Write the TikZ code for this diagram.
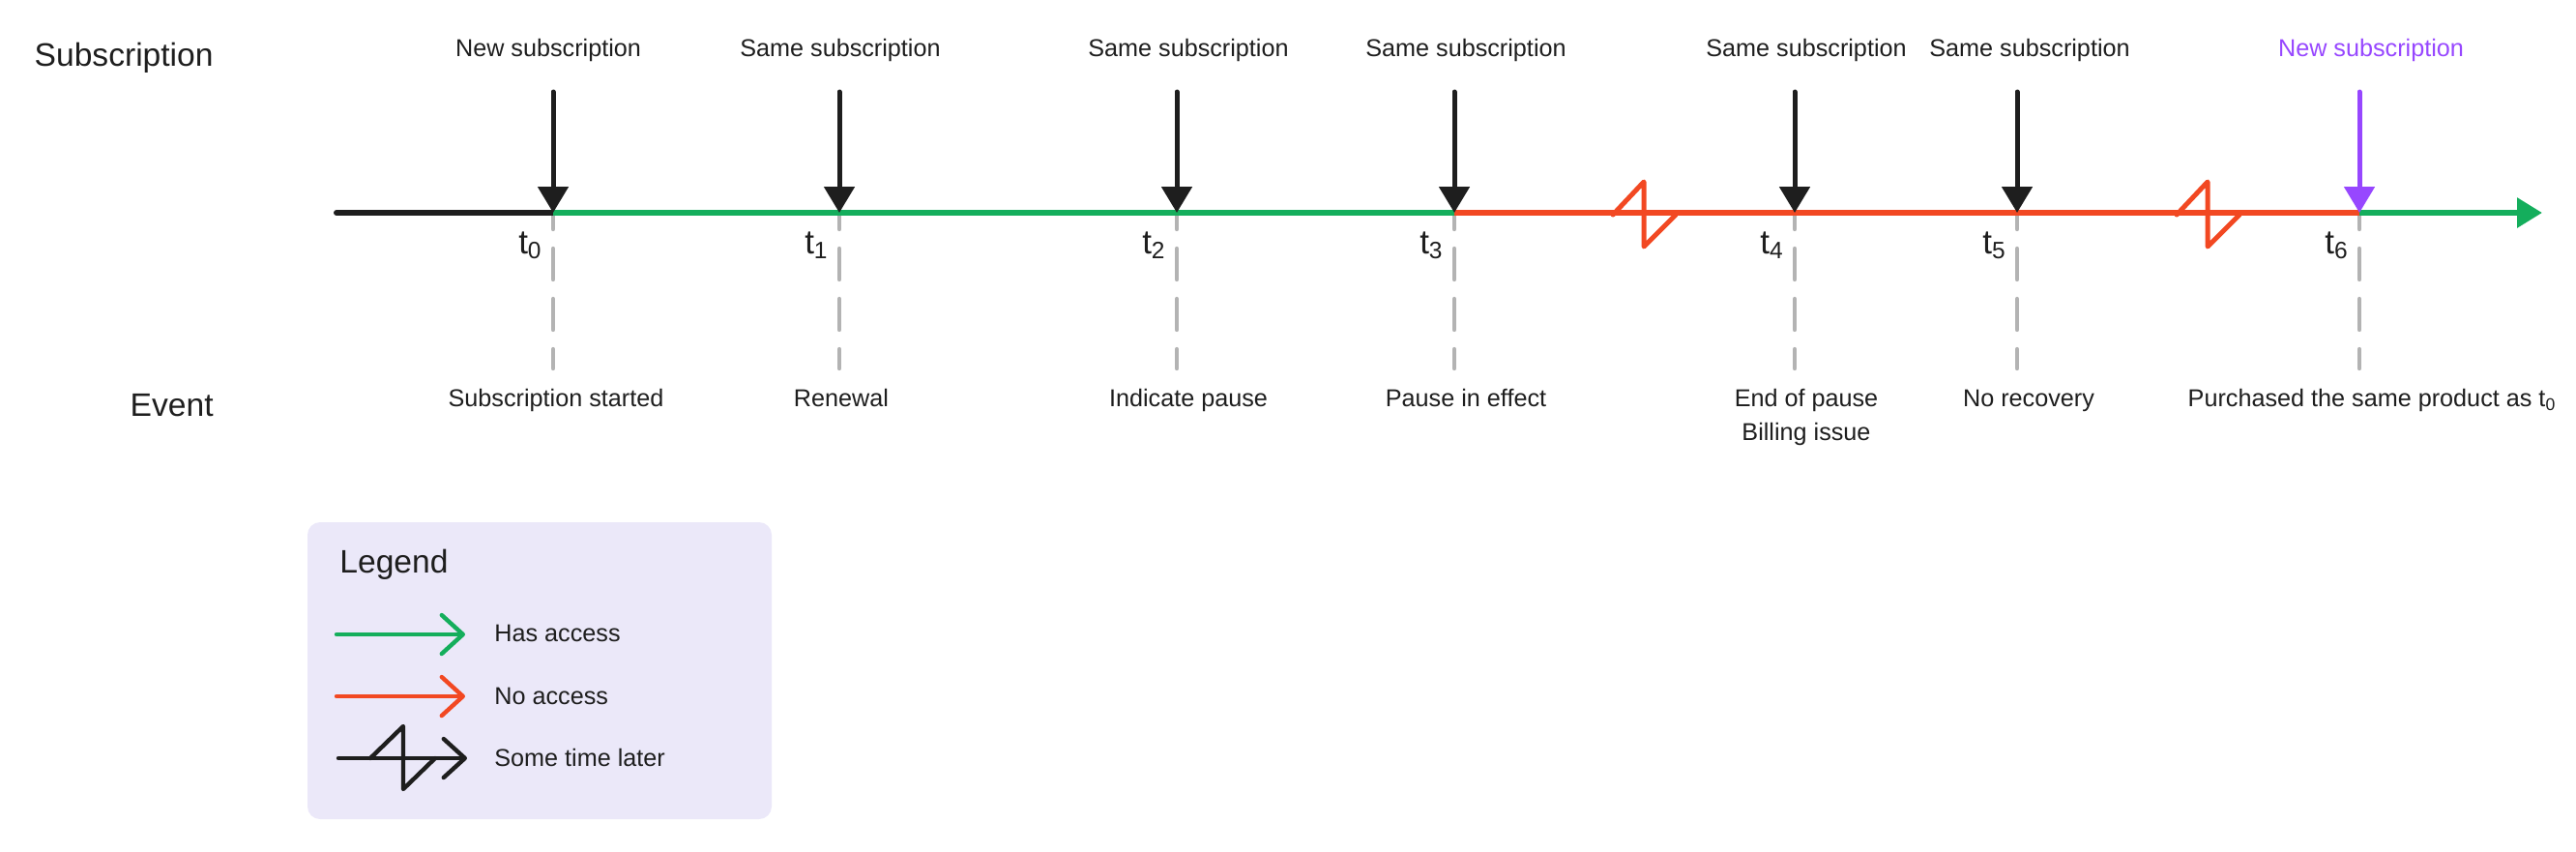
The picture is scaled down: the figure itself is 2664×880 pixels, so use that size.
\documentclass[tikz,border=0pt]{standalone}
\usepackage{fontspec}
\setmainfont{Liberation Sans}
\usetikzlibrary{arrows.meta}
\definecolor{ink}{HTML}{1E1E1E}
\definecolor{access}{HTML}{14AE5C}
\definecolor{noaccess}{HTML}{F24822}
\definecolor{newsub}{HTML}{9747FF}
\definecolor{guide}{HTML}{B3B3B3}
\definecolor{legendbg}{HTML}{EBE8F9}
\def\tstep(#1,#2,#3,#4){
  \coordinate (d#1) at (#2,205);
  \coordinate (t#1) at (#2,220);
  \coordinate (e#1) at (#2,381);
  \coordinate (p#1) at (#2,95);
  \draw[guideline] (d#1) -- (e#1);
  \node[tname] (tn#1) at (#2-11,262) {t\textsubscript{#1}};
  \node[lbl, anchor=north, align=center] (ev#1) at (#3,401) {\rule{0pt}{9.5pt}#4};
}
\def\tpush(#1,#2,#3,#4){
  \draw[push, #3] (p#1) -- (t#1);
  \node[lbl, anchor=base, text=#3] (s#1) at (#2,58) {#4};
}
\def\gapmark(#1,#2){
  \draw[gap, #2] (#1-32,222) -- (#1,188) -- (#1,255) -- (#1+33,222);
}
\begin{document}
\begin{tikzpicture}[x=0.5pt,y=-0.5pt,
  lbl/.style={font=\fontsize{12.6}{17.5}\selectfont, text=ink, inner sep=0pt},
  head/.style={font=\fontsize{16.8}{20}\selectfont, text=ink, inner sep=0pt},
  tname/.style={font=\fontsize{17.5}{20}\selectfont, text=ink, inner sep=0pt, anchor=base east},
  guideline/.style={guide, line width=2.2pt, line cap=round, dash pattern=on 16pt off 10pt},
  track/.style={line width=3pt},
  push/.style={line width=2.5pt, line cap=round, -{Triangle[length=13.5pt,width=15.5pt]}},
  gap/.style={line width=2.5pt, line join=round, line cap=round},
  keyline/.style={line width=2.2pt, line cap=round, -{Straight Barb[length=11pt,width=20pt,round]}},
]
\useasboundingbox (0,0) rectangle (2664,880);
\node[head, anchor=base east] (subs) at (221,68) {Subscription};
\node[head, anchor=base east] (event) at (221,430) {Event};
\tstep(0,572,575,Subscription started)
\tstep(1,868,870,Renewal)
\tstep(2,1217,1229,Indicate pause)
\tstep(3,1504,1516,Pause in effect)
\tstep(4,1856,1868,End of pause\\Billing issue)
\tstep(5,2086,2098,No recovery)
\tstep(6,2440,2453,Purchased the same product as t\textsubscript{0})
\coordinate (start) at (348,220);
\coordinate (end) at (2629,220);
\draw[track, ink, line cap=round] (start) -- (t0);
\draw[track, access] (t0) -- (t3);
\draw[track, noaccess] (t3) -- (t6);
\draw[track, access, -{Triangle[length=13pt,width=15pt]}] (t6) -- (end);
\gapmark(1700,noaccess)
\gapmark(2283,noaccess)
\tpush(0,567,ink,New subscription)
\tpush(1,869,ink,Same subscription)
\tpush(2,1229,ink,Same subscription)
\tpush(3,1516,ink,Same subscription)
\tpush(4,1868,ink,Same subscription)
\tpush(5,2099,ink,Same subscription)
\tpush(6,2452,newsub,New subscription)
% legend
\node[fill=legendbg, rounded corners=6.5pt, minimum width=240pt, minimum height=153.5pt, inner sep=0pt] (legend) at (558,693.5) {};
\node[head, anchor=base west] (legtitle) at (351,592) {Legend};
\coordinate (k1a) at (348,656); \coordinate (k1b) at (481,656);
\coordinate (k2a) at (348,720); \coordinate (k2b) at (481,720);
\coordinate (k3a) at (350,784); \coordinate (k3b) at (483,784);
\draw[keyline, access] (k1a) -- (k1b);
\draw[keyline, noaccess] (k2a) -- (k2b);
\draw[keyline, ink] (k3a) -- (k3b);
\draw[gap, ink, line width=2.2pt] (383,784) -- (417,751) -- (417,816) -- (450,784);
\node[lbl, anchor=base west] (k1) at (511,663) {Has access};
\node[lbl, anchor=base west] (k2) at (511,728) {No access};
\node[lbl, anchor=base west] (k3) at (511,792) {Some time later};
\end{tikzpicture}
\end{document}
